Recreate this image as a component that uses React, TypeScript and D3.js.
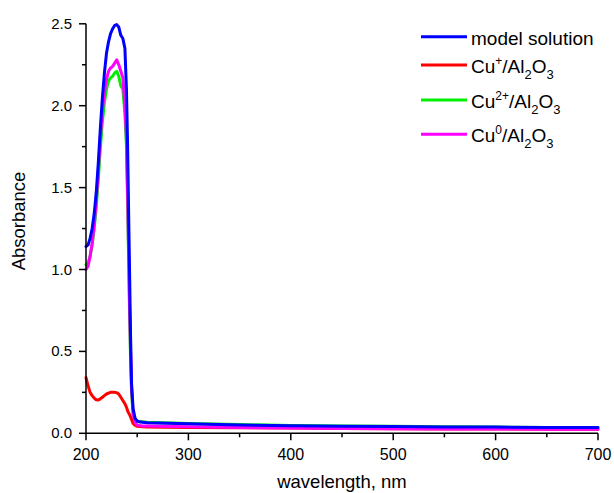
import React from "react";
import * as d3 from "d3";

const wl = [200,202,204,206,208,210,212,214,216,218,220,222,224,226,228,230,232,234,236,238,239.5,240.5,241.5,242.5,243.5,244.5,246,248,250,252,255,260,300,350,400,450,500,550,600,650,700];
const modelSolution = [1.14,1.15,1.19,1.25,1.34,1.47,1.65,1.86,2.05,2.2,2.32,2.39,2.44,2.47,2.49,2.495,2.48,2.43,2.41,2.35,2.1,1.8,1.4,1.0,0.6,0.3,0.15,0.09,0.075,0.07,0.068,0.065,0.058,0.05,0.046,0.043,0.041,0.039,0.038,0.036,0.035];
const cuPlus = [0.34,0.29,0.25,0.23,0.215,0.205,0.203,0.21,0.22,0.23,0.24,0.245,0.25,0.25,0.25,0.248,0.24,0.22,0.2,0.18,0.16,0.14,0.125,0.115,0.1,0.085,0.06,0.048,0.043,0.041,0.04,0.039,0.036,0.034,0.032,0.03,0.028,0.027,0.026,0.025,0.025];
const cu2Plus = [1.03,1.04,1.08,1.15,1.25,1.38,1.55,1.74,1.9,2.02,2.1,2.15,2.17,2.18,2.2,2.21,2.18,2.12,2.1,1.95,1.75,1.45,1.1,0.75,0.45,0.25,0.12,0.08,0.072,0.07,0.07,0.068,0.06,0.053,0.048,0.045,0.043,0.04,0.038,0.036,0.035];
const cu0 = [1.0,1.02,1.08,1.16,1.27,1.42,1.6,1.8,1.97,2.08,2.16,2.21,2.23,2.24,2.26,2.28,2.25,2.21,2.17,2.0,1.8,1.5,1.15,0.8,0.5,0.28,0.12,0.065,0.05,0.047,0.045,0.044,0.04,0.035,0.032,0.03,0.028,0.027,0.026,0.025,0.025];

const xTicks = [200,300,400,500,600,700];
const xMinor = [250,350,450,550,650];
const yTicks = [0,0.5,1.0,1.5,2.0,2.5];
const yMinor = [0.25,0.75,1.25,1.75,2.25];

const seriesDraw = [
  { name: "cuPlus", values: cuPlus, color: "#ff0000" },
  { name: "cu2Plus", values: cu2Plus, color: "#00ee00" },
  { name: "cu0", values: cu0, color: "#ff00ff" },
  { name: "model", values: modelSolution, color: "#0000ff" },
];

const FONT = "Arial, 'Liberation Sans', Helvetica, sans-serif";

const Chem = ({ sup }: { sup: string }) => (
  <>
    <tspan>Cu</tspan>
    <tspan dy={-8} fontSize={12}>{sup}</tspan>
    <tspan dy={8}>/Al</tspan>
    <tspan dy={6} fontSize={13}>2</tspan>
    <tspan dy={-6}>O</tspan>
    <tspan dy={6} fontSize={13}>3</tspan>
  </>
);

export default function App() {
  const x = d3.scaleLinear().domain([200, 700]).range([86, 598]);
  const y = d3.scaleLinear().domain([0, 2.5]).range([433.3, 23.8]);
  const line = (vals: number[]) =>
    d3.line<number>().x((_, i) => x(wl[i])).y((d) => y(d))(vals) || "";

  const legend = [
    { color: "#0000ff", y: 36.7, label: <tspan>model solution</tspan> },
    { color: "#ff0000", y: 65, label: <Chem sup="+" /> },
    { color: "#00ee00", y: 100, label: <Chem sup="2+" /> },
    { color: "#ff00ff", y: 134.3, label: <Chem sup="0" /> },
  ];

  return (
    <svg width={614} height={493} style={{ position: "absolute", left: 0, top: 0, background: "#fff" }} fontFamily={FONT}>
      <rect width={614} height={493} fill="#fff" />
      <g fill="none" strokeWidth={3} strokeLinejoin="round" strokeLinecap="round">
        {seriesDraw.map((s) => (
          <path key={s.name} d={line(s.values)} stroke={s.color} />
        ))}
      </g>
      <g stroke="#000" strokeWidth={1.5}>
        <line x1={x(200)} x2={x(200)} y1={y(2.5)} y2={y(0)} />
        <line x1={x(200)} x2={x(700)} y1={y(0)} y2={y(0)} />
        {yTicks.map((t) => (
          <line key={"yt" + t} x1={x(200) - 7} x2={x(200)} y1={y(t)} y2={y(t)} />
        ))}
        {yMinor.map((t) => (
          <line key={"ym" + t} x1={x(200) - 4} x2={x(200)} y1={y(t)} y2={y(t)} />
        ))}
        {xTicks.map((t) => (
          <line key={"xt" + t} x1={x(t)} x2={x(t)} y1={y(0)} y2={y(0) + 7} />
        ))}
        {xMinor.map((t) => (
          <line key={"xm" + t} x1={x(t)} x2={x(t)} y1={y(0)} y2={y(0) + 4} />
        ))}
      </g>
      <g fill="#000">
        {yTicks.map((t) => (
          <text key={"yl" + t} x={72} y={y(t) + 5} fontSize={15} textAnchor="end">{d3.format(".1f")(t)}</text>
        ))}
        {xTicks.map((t) => (
          <text key={"xl" + t} x={x(t)} y={460} fontSize={16} textAnchor="middle">{t}</text>
        ))}
      </g>
      <text x={342} y={487.5} fontSize={18.5} textAnchor="middle">wavelength, nm</text>
      <text transform={`translate(24.5,221) rotate(-90)`} fontSize={18.5} textAnchor="middle">Absorbance</text>
      <g fontSize={19}>
        {legend.map((l, i) => (
          <g key={i}>
            <line x1={421} x2={467} y1={l.y} y2={l.y} stroke={l.color} strokeWidth={3} />
            <text x={471} y={l.y + 8}>{l.label}</text>
          </g>
        ))}
      </g>
    </svg>
  );
}
